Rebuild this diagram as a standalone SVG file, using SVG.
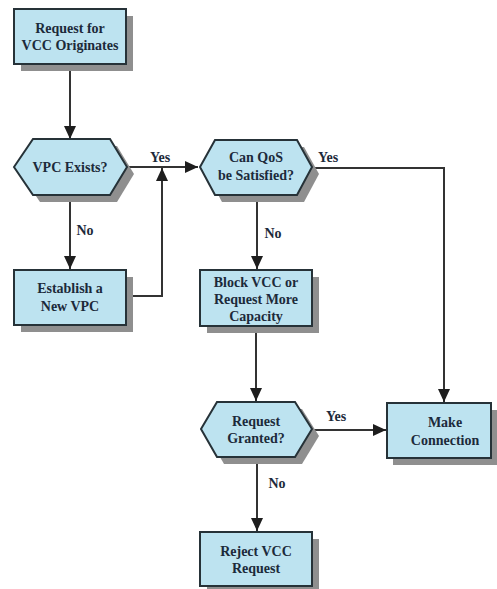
<svg xmlns="http://www.w3.org/2000/svg" width="497" height="589" viewBox="0 0 497 589">
<defs>
<style>
.sh{fill:#8f8f8f}
.nd{fill:#bde3f0;stroke:#263238;stroke-width:2}
.t{font-family:"Liberation Serif","Times New Roman",serif;font-weight:bold;font-size:14px;fill:#1c2a3a;text-anchor:middle}
.ln{fill:none;stroke:#333;stroke-width:2}
</style>
<marker id="ah" markerUnits="userSpaceOnUse" markerWidth="14" markerHeight="14" viewBox="0 0 14 14" refX="13" refY="7" orient="auto">
<path d="M0,1 L13,7 L0,13 Z" fill="#1e1e1e"/>
</marker>
</defs>
<rect width="497" height="589" fill="#fff"/>
<g id="connectors">
<path class="ln" d="M70,64 V139" marker-end="url(#ah)"/>
<path class="ln" d="M127,167 H198" marker-end="url(#ah)"/>
<path class="ln" d="M70,195 V269" marker-end="url(#ah)"/>
<path class="ln" d="M126,296 H162 V168" marker-end="url(#ah)"/>
<path class="ln" d="M312,168 H444 V402" marker-end="url(#ah)"/>
<path class="ln" d="M257,195 V269" marker-end="url(#ah)"/>
<path class="ln" d="M256,326 V401" marker-end="url(#ah)"/>
<path class="ln" d="M312,430 H386" marker-end="url(#ah)"/>
<path class="ln" d="M257,457 V531" marker-end="url(#ah)"/>
<text class="t" x="160" y="162">Yes</text>
<text class="t" x="328" y="162">Yes</text>
<text class="t" x="85" y="235">No</text>
<text class="t" x="273" y="238">No</text>
<text class="t" x="336" y="421">Yes</text>
<text class="t" x="277" y="488">No</text>
</g>
<g id="n1">
<rect class="sh" x="21" y="16" width="112" height="55"/>
<rect class="nd" x="14" y="9" width="112" height="55"/>
<text class="t" x="70" y="33">Request for</text>
<text class="t" x="70" y="50">VCC Originates</text>
</g>
<g id="n2">
<polygon class="sh" points="21,174 40,146 117,146 134,174 117,202 40,202"/>
<polygon class="nd" points="14,167 33,139 110,139 127,167 110,195 33,195"/>
<text class="t" x="70" y="172">VPC Exists?</text>
</g>
<g id="n3">
<rect class="sh" x="21" y="277" width="112" height="55"/>
<rect class="nd" x="14" y="270" width="112" height="55"/>
<text class="t" x="70" y="293">Establish a</text>
<text class="t" x="70" y="311">New VPC</text>
</g>
<g id="n4">
<polygon class="sh" points="207,174 222,147 304,147 319,174 304,202 222,202"/>
<polygon class="nd" points="200,167 215,140 297,140 312,167 297,195 215,195"/>
<text class="t" x="256" y="162">Can QoS</text>
<text class="t" x="256" y="180">be Satisfied?</text>
</g>
<g id="n5">
<rect class="sh" x="207" y="277" width="112" height="56"/>
<rect class="nd" x="200" y="270" width="112" height="56"/>
<text class="t" x="256" y="287">Block VCC or</text>
<text class="t" x="256" y="304">Request More</text>
<text class="t" x="256" y="321">Capacity</text>
</g>
<g id="n6">
<polygon class="sh" points="208,436 224,409 302,409 319,436 302,464 224,464"/>
<polygon class="nd" points="201,429 217,402 295,402 312,429 295,457 217,457"/>
<text class="t" x="256" y="426">Request</text>
<text class="t" x="256" y="443">Granted?</text>
</g>
<g id="n7">
<rect class="sh" x="393" y="410" width="104" height="55"/>
<rect class="nd" x="387" y="403" width="104" height="55"/>
<text class="t" x="445" y="427">Make</text>
<text class="t" x="445" y="445">Connection</text>
</g>
<g id="n8">
<rect class="sh" x="207" y="539" width="112" height="50"/>
<rect class="nd" x="200" y="532" width="112" height="54"/>
<text class="t" x="256" y="556">Reject VCC</text>
<text class="t" x="256" y="573">Request</text>
</g>
</svg>
